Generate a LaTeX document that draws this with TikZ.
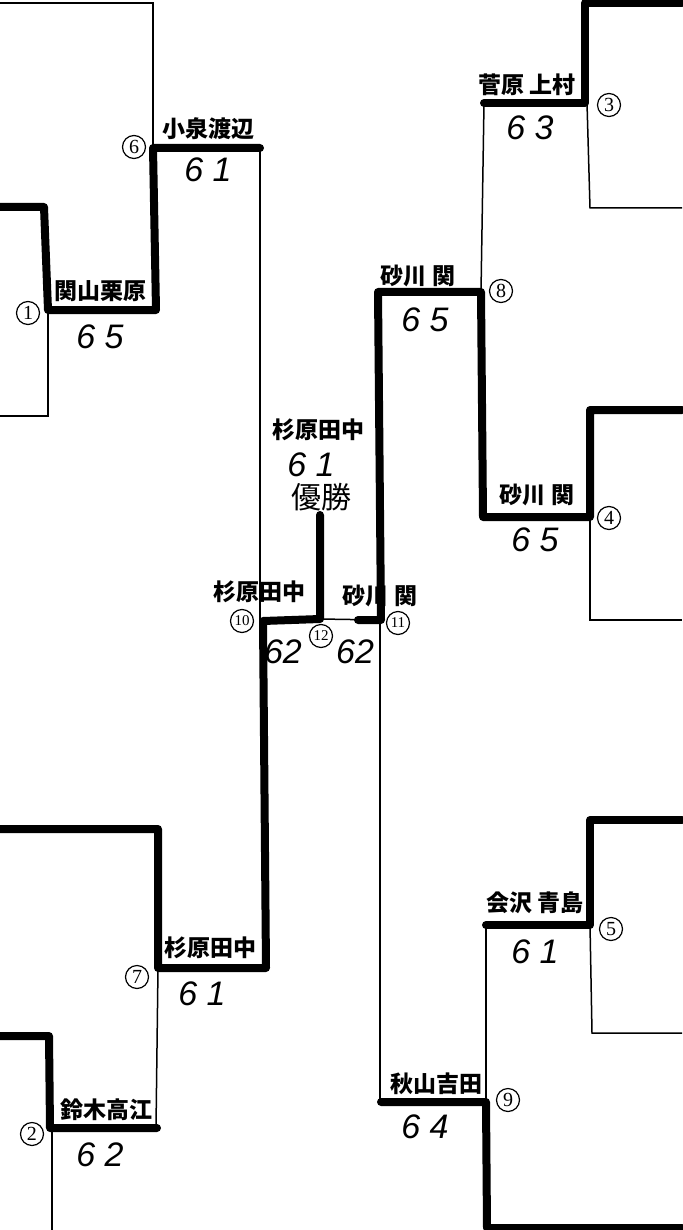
\documentclass[tikz,border=0pt]{standalone}
\usepackage{fontspec}
\newfontfamily\jp{Noto Sans CJK JP}
\newfontfamily\hand{Liberation Sans}
\newfontfamily\ser{Liberation Serif}
\begin{document}
\begin{tikzpicture}[x=1pt,y=-1pt,
  win/.style={line width=8pt,line join=round,line cap=round},
  thin/.style={line width=1.5pt},
  jname/.style={font=\jp\bfseries\fontsize{23}{23}\selectfont,inner sep=0pt},
  score/.style={font=\hand\itshape\fontsize{34}{34}\selectfont,inner sep=0pt},
  num/.style={circle,draw,line width=1.2pt,minimum size=23pt,inner sep=0pt,font=\ser\fontsize{20}{20}\selectfont},
  num2/.style={num,font=\ser\fontsize{15}{15}\selectfont}]
\useasboundingbox (0,0) rectangle (682,1230);
% junction coordinates
\coordinate (m1) at (48,310);
\coordinate (m6) at (153,148);
\coordinate (m2) at (50,1128);
\coordinate (m7) at (158,968);
\coordinate (m10) at (263,621);
\coordinate (m12) at (320,619);
\coordinate (m11) at (381,620);
\coordinate (m3) at (585,103);
\coordinate (m8) at (481,292);
\coordinate (m4) at (590,517);
\coordinate (m5) at (590,925);
\coordinate (m9) at (381,1102);
% free ends
\coordinate (a1) at (0,3);
\coordinate (a2) at (0,207);
\coordinate (a3) at (0,416);
\coordinate (a4) at (0,829);
\coordinate (a5) at (0,1036);
\coordinate (a6) at (52,1230);
\coordinate (b1) at (682,3);
\coordinate (b2) at (682,208);
\coordinate (b3) at (682,410);
\coordinate (b4) at (682,620);
\coordinate (b5) at (682,820);
\coordinate (b6) at (682,1033);
\coordinate (b7) at (682,1228);
\coordinate (top) at (320,515);
% thin lines (losers)
\draw[thin] (a1) -- (153,3) -- (m6);
\draw[thin] (m1) -- (48,416) -- (a3);
\draw[thin] (260,148) -- (260,621);
\draw[thin] (m7) -- (156,1128);
\draw[thin] (52,1128) -- (a6);
\draw[thin] (587,103) -- (590,208) -- (b2);
\draw[thin] (484,103) -- (m8);
\draw[thin] (m4) -- (590,620) -- (b4);
\draw[thin] (m12) -- (m11);
\draw[thin] (380,620) -- (380,1102);
\draw[thin] (m5) -- (592,1033) -- (b6);
\draw[thin] (486,925) -- (486,1102);
% thick lines (winners)
\draw[win] (a2) -- (44,207) -- (m1) -- (156,310) -- (m6) -- (260,148);
\draw[win] (a4) -- (158,829) -- (m7) -- (266,968) -- (m10) -- (m12) -- (top);
\draw[win] (a5) -- (49,1036) -- (m2) -- (157,1128);
\draw[win] (b1) -- (585,3) -- (m3) -- (484,103);
\draw[win] (b3) -- (590,410) -- (m4) -- (483,517) -- (m8) -- (378,292) -- (m11) -- (358,620);
\draw[win] (b5) -- (590,820) -- (m5) -- (486,925);
\draw[win] (m9) -- (486,1102) -- (487,1228) -- (b7);
% circled match numbers
\node[num] (n1) at (28,313) {1};
\node[num] (n6) at (134,147) {6};
\node[num] (n2) at (32,1134) {2};
\node[num] (n7) at (137,977) {7};
\node[num2] (n10) at (242,621) {10};
\node[num2] (n12) at (321,636) {12};
\node[num2] (n11) at (398,623) {11};
\node[num] (n3) at (609,105) {3};
\node[num] (n8) at (501,291) {8};
\node[num] (n4) at (609,518) {4};
\node[num] (n5) at (611,929) {5};
\node[num] (n9) at (508,1100) {9};
% names
\node[jname] (t1) at (100,291) {関山栗原};
\node[jname] (t6) at (208,129) {小泉渡辺};
\node[jname] (t2) at (106,1110) {鈴木高江};
\node[jname] (t7) at (210,948) {杉原田中};
\node[jname] (t10) at (259,592) {杉原田中};
\node[jname] (t11) at (380,596) {砂川\hspace{6pt}関};
\node[jname] (tw) at (318,430) {杉原田中};
\node[jname] (t3) at (527,85) {菅原 上村};
\node[jname] (t8) at (418,276) {砂川 関};
\node[jname] (t4) at (537,495) {砂川 関};
\node[jname] (t5) at (535,903) {会沢 青島};
\node[jname] (t9) at (436,1084) {秋山吉田};
\node[jname,font=\jp\fontsize{30}{30}\selectfont] (yu) at (321,497) {優勝};
% scores
\node[score] (s1) at (100,337) {6 5};
\node[score] (s6) at (208,170) {6 1};
\node[score] (s2) at (100,1155) {6 2};
\node[score] (s7) at (202,994) {6 1};
\node[score] (s10) at (283,652) {62};
\node[score] (s11) at (355,652) {62};
\node[score] (sw) at (311,465) {6 1};
\node[score] (s3) at (530,128) {6 3};
\node[score] (s8) at (425,320) {6 5};
\node[score] (s4) at (535,540) {6 5};
\node[score] (s5) at (535,952) {6 1};
\node[score] (s9) at (425,1127) {6 4};
\end{tikzpicture}
\end{document}
